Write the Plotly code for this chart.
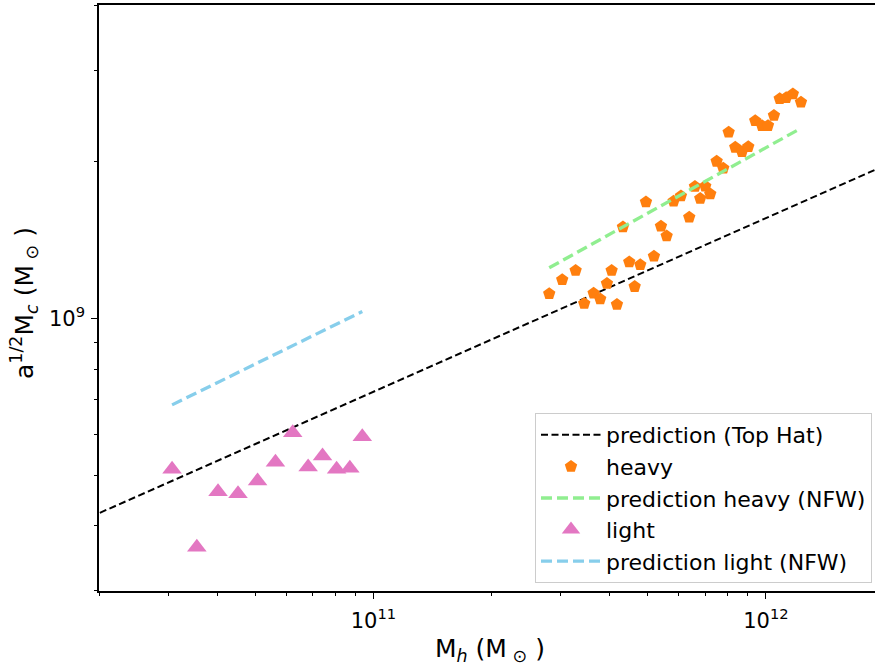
import plotly.graph_objects as go

# ---- data ----
tophat_x = [1.9e10, 2.0e12]
tophat_y = [4.16e8, 1.965e9]

heavy_x = [2.805e11, 3.027e11, 3.275e11, 3.444e11, 3.639e11, 3.783e11, 3.935e11, 4.045e11,
           4.173e11, 4.322e11, 4.485e11, 4.630e11, 4.784e11, 4.947e11, 5.184e11, 5.402e11,
           5.585e11, 5.818e11, 6.073e11, 6.377e11, 6.594e11, 6.802e11, 7.005e11, 7.213e11,
           7.489e11, 7.785e11, 8.035e11, 8.352e11, 8.687e11, 9.015e11, 9.391e11, 9.768e11,
           1.012e12, 1.048e12, 1.084e12, 1.126e12, 1.171e12, 1.228e12]
heavy_y = [1.116e9, 1.187e9, 1.237e9, 1.069e9, 1.119e9, 1.091e9, 1.168e9, 1.237e9,
           1.064e9, 1.499e9, 1.284e9, 1.152e9, 1.269e9, 1.675e9, 1.317e9, 1.504e9,
           1.441e9, 1.680e9, 1.720e9, 1.565e9, 1.794e9, 1.701e9, 1.796e9, 1.734e9,
           2.004e9, 1.943e9, 2.279e9, 2.132e9, 2.091e9, 2.138e9, 2.397e9, 2.347e9,
           2.347e9, 2.454e9, 2.642e9, 2.654e9, 2.698e9, 2.603e9]

nfw_heavy_x = [2.805e11, 1.228e12]
nfw_heavy_y = [1.252e9, 2.32e9]

light_x = [3.07e10, 3.55e10, 4.02e10, 4.52e10, 5.07e10, 5.63e10, 6.23e10, 6.82e10,
           7.42e10, 8.06e10, 8.71e10, 9.37e10]
light_y = [5.14e8, 3.64e8, 4.65e8, 4.61e8, 4.88e8, 5.30e8, 6.04e8, 5.19e8,
           5.45e8, 5.14e8, 5.16e8, 5.93e8]

nfw_light_x = [3.07e10, 9.37e10]
nfw_light_y = [6.83e8, 1.032e9]

x_major = [1e11, 1e12]
x_major_text = ["10<sup>11</sup>", "10<sup>12</sup>"]
x_minor = [2e10, 3e10, 4e10, 5e10, 6e10, 7e10, 8e10, 9e10,
           2e11, 3e11, 4e11, 5e11, 6e11, 7e11, 8e11, 9e11]
y_major = [1e9]
y_major_text = ["10<sup>9</sup>"]
y_minor = [3e8, 4e8, 5e8, 6e8, 7e8, 8e8, 9e8, 2e9, 3e9, 4e9]

FONT = "DejaVu Sans"
FS = 22
TKS = 21
TFS = 26

fig = go.Figure()
fig.add_trace(go.Scatter(x=tophat_x, y=tophat_y, mode="lines", name="prediction (Top Hat)",
                         line=dict(color="black", width=2, dash="7px,3.5px"), legendgroup="a"))
fig.add_trace(go.Scatter(x=heavy_x, y=heavy_y, mode="markers", name="heavy",
                         marker=dict(symbol="pentagon", size=13, color="#ff7f0e", line=dict(width=0)),
                         legendgroup="b"))
fig.add_trace(go.Scatter(x=nfw_heavy_x, y=nfw_heavy_y, mode="lines", name="prediction heavy (NFW)",
                         line=dict(color="#90ee90", width=3.3, dash="11px,5px"), legendgroup="c"))
fig.add_trace(go.Scatter(x=light_x, y=light_y, mode="markers", name="light",
                         marker=dict(symbol="triangle-up", size=17, color="#e377c2", line=dict(width=0)),
                         legendgroup="d"))
fig.add_trace(go.Scatter(x=nfw_light_x, y=nfw_light_y, mode="lines", name="prediction light (NFW)",
                         line=dict(color="#87ceeb", width=3.3, dash="11px,5px"), legendgroup="e"))

W, H = 875, 670
L, R, T, B = 99, 0, 5, 79
pw = W - L - R
ph = H - T - B
fig.update_layout(
    width=W, height=H,
    margin=dict(l=L, r=R, t=T, b=B, pad=0),
    paper_bgcolor="white", plot_bgcolor="white",
    font=dict(family=FONT, size=FS, color="black"),
    showlegend=True,
    legend=dict(x=(535 - L) / pw, y=(H - B - 413) / ph,
                xanchor="left", yanchor="top",
                bgcolor="rgba(255,255,255,0.8)", bordercolor="#cccccc", borderwidth=1,
                font=dict(family=FONT, size=FS), tracegroupgap=0,
                itemwidth=60, traceorder="grouped"),
)
fig.update_xaxes(type="log", range=[10.30103, 12.2778], showgrid=False, zeroline=False,
                 showline=True, linecolor="black", linewidth=1.5, mirror=True,
                 ticks="outside", ticklen=6, tickwidth=1.3, tickcolor="black",
                 tickvals=x_major, ticktext=x_major_text, ticklabelstandoff=4,
                 tickfont=dict(family=FONT, size=TKS),
                 minor=dict(tickvals=x_minor, ticks="outside", ticklen=3.5, tickwidth=1.1,
                            tickcolor="black", showgrid=False))
fig.update_yaxes(type="log", range=[8.4771, 9.6021], showgrid=False, zeroline=False,
                 showline=True, linecolor="black", linewidth=1.5, mirror=False,
                 ticks="outside", ticklen=6, tickwidth=1.3, tickcolor="black",
                 tickvals=y_major, ticktext=y_major_text, ticklabelstandoff=2,
                 tickfont=dict(family=FONT, size=TKS),
                 minor=dict(tickvals=y_minor, ticks="outside", ticklen=3.5, tickwidth=1.1,
                            tickcolor="black", showgrid=False))

fig.add_annotation(text="M<sub><i>h</i></sub> (M<sub> ⊙</sub> )", xref="paper", yref="paper",
                   x=(490 - L) / pw, y=-(650 - (H - B)) / ph, xanchor="center", yanchor="middle",
                   showarrow=False, font=dict(family=FONT, size=TFS - 1))
fig.add_annotation(text="a<sup>1/2</sup>M<sub><i>c</i></sub> (M<sub> ⊙</sub> )", xref="paper", yref="paper",
                   x=-(L - 24) / pw, y=(H - B - 303) / ph, xanchor="center", yanchor="middle",
                   textangle=-90, showarrow=False, font=dict(family=FONT, size=TFS - 1))

fig.write_html("out.html")
